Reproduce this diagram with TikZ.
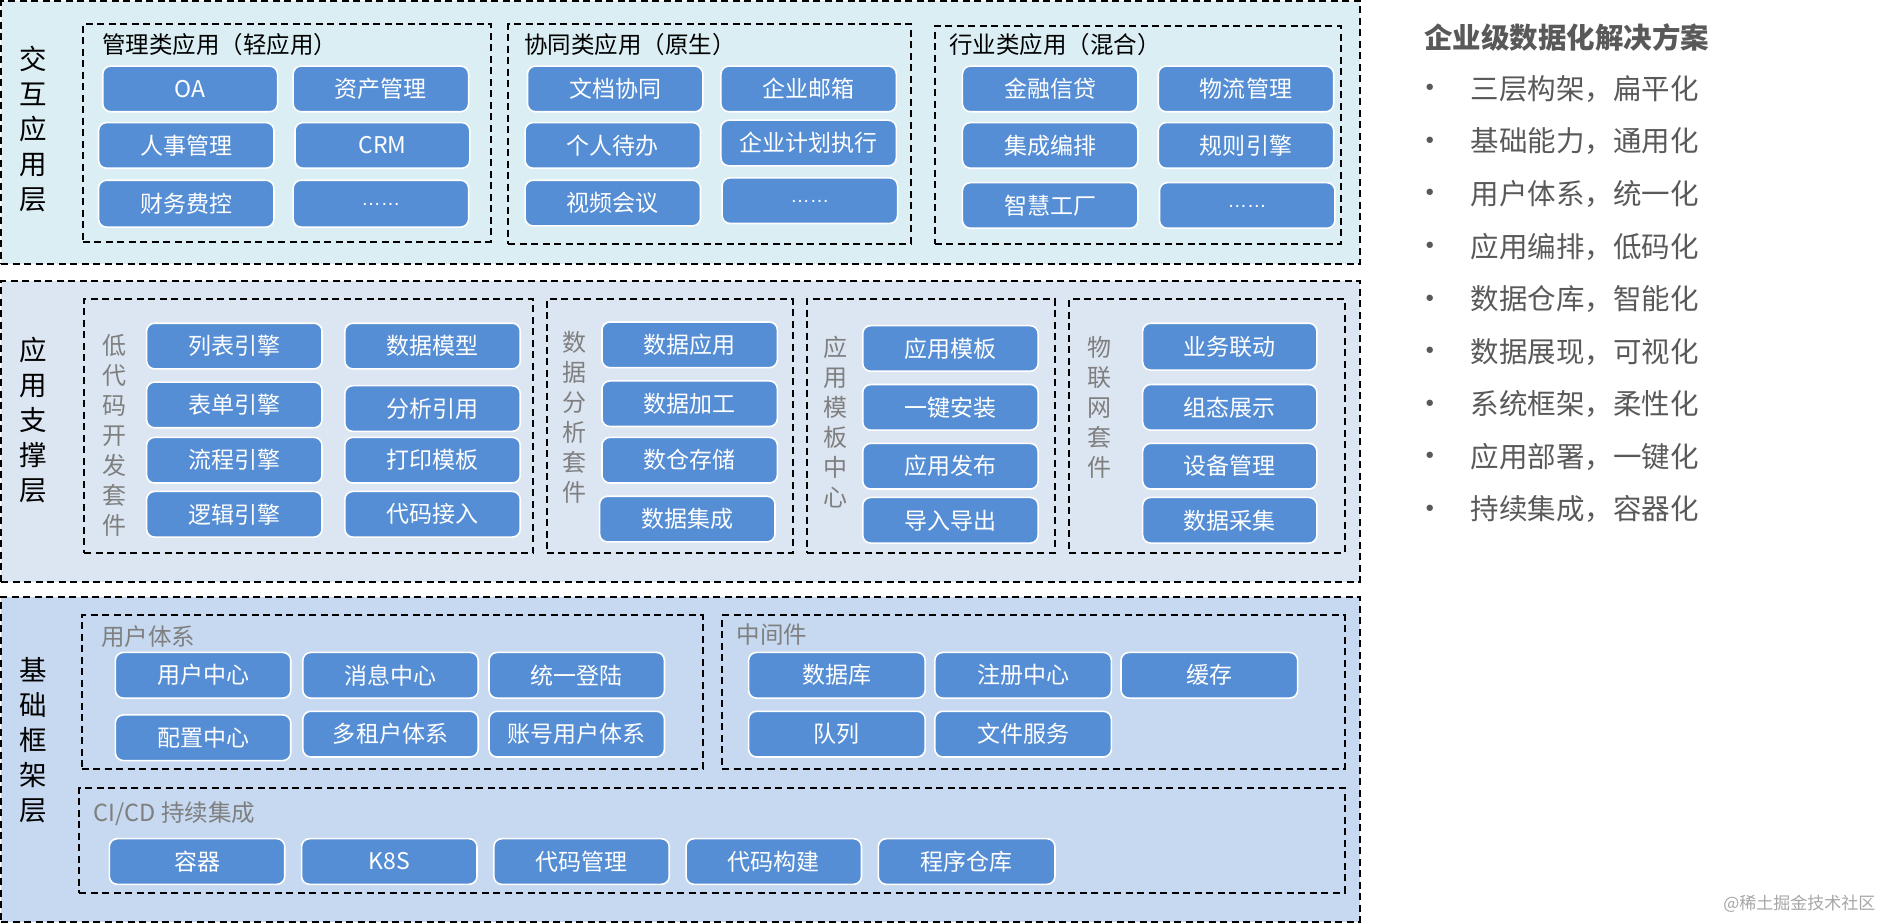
\documentclass[tikz,border=0pt]{standalone}
\usepackage{fontspec}
\setmainfont{Noto Sans CJK SC}
\newfontfamily\latinf{Liberation Sans}
\newfontfamily\dejavu{DejaVu Sans}
\usetikzlibrary{fit}
\definecolor{lone}{RGB}{218,238,243}
\definecolor{ltwo}{RGB}{220,230,242}
\definecolor{lthree}{RGB}{198,217,240}
\definecolor{boxblue}{RGB}{85,142,213}
\definecolor{graytxt}{RGB}{127,127,127}
\definecolor{sidetxt}{RGB}{89,89,89}
\tikzset{
  layerbox/.style={draw=black, line width=2pt, dash pattern=on 7pt off 4.5pt, inner sep=0pt},
  grpbox/.style={draw=black, line width=2pt, dash pattern=on 7pt off 4.5pt, inner sep=0pt},
  bx/.style={draw=white, line width=1.6pt, fill=boxblue, rounded corners=8pt, inner sep=0pt},
  btxt/.style={text=white, font=\fontsize{23}{26}\selectfont, inner sep=0pt},
  gtitle/.style={anchor=west, inner sep=0pt, font=\fontsize{23.5}{26}\selectfont},
  gtitlegray/.style={gtitle, text=graytxt},
  laylabel/.style={align=center, inner sep=0pt, font=\fontsize{27.5}{35}\selectfont},
  vlabel/.style={align=center, inner sep=0pt, text=graytxt, font=\fontsize{24}{30}\selectfont},
  sidetitle/.style={anchor=west, inner sep=0pt, text=sidetxt, font=\bfseries\fontsize{28.5}{32}\selectfont},
  sideitem/.style={anchor=west, inner sep=0pt, text=sidetxt, font=\fontsize{28.5}{32}\selectfont},
  sidebullet/.style={anchor=center, inner sep=0pt, text=sidetxt, font=\dejavu\fontsize{22}{24}\selectfont},
}
\newcommand\bx[6]{\node[bx, fit={(#2,#3) (#4,#5)}, label={[btxt]center:#6}] (#1) {};}
\newcommand\dotstxt{{\latinf\fontsize{19.5}{22}\selectfont\raisebox{-4pt}{……}}}
\begin{document}
\begin{tikzpicture}[x=1.2015pt, y=-1.2015pt]
\useasboundingbox (0,0) rectangle (1568,768);
% ---------- layer 1
\node[layerbox, fill=lone, fit={(1,1) (1132,220)}] (L1) {};
\node[laylabel] (L1t) at (28,107.5) {交\\互\\应\\用\\层};
\node[grpbox, fit={(69,20) (408.5,201)}] (g1a) {};
\node[gtitle] (g1at) at (85,37.5) {管理类应用（轻应用）};
\bx{oa}{85.5}{55}{231}{93}{OA}
\bx{zcgl}{244}{55}{390}{93}{资产管理}
\bx{rsgl}{82}{102}{228}{140}{人事管理}
\bx{crm}{245.5}{102}{391}{140}{CRM}
\bx{cwfk}{82}{150}{228}{189}{财务费控}
\bx{dotsa}{244}{150}{390}{189}{\dotstxt}
\node[grpbox, fit={(423,20) (758,203)}] (g1b) {};
\node[gtitle] (g1bt) at (436,37.5) {协同类应用（原生）};
\bx{wdxt}{439}{55}{585}{93}{文档协同}
\bx{qyyx}{600}{55}{746}{93}{企业邮箱}
\bx{grdb}{437}{102}{583}{140}{个人待办}
\bx{qyjh}{600}{100}{746}{138}{企业计划执行}
\bx{sphy}{437}{150}{583}{188}{视频会议}
\bx{dotsb}{601}{148}{747}{186}{\dotstxt}
\node[grpbox, fit={(778,22) (1116,203)}] (g1c) {};
\node[gtitle] (g1ct) at (790,37.5) {行业类应用（混合）};
\bx{jrxd}{801}{55}{947}{93}{金融信贷}
\bx{wlgl}{964}{55}{1110}{93}{物流管理}
\bx{jcbp}{801}{102}{947}{140}{集成编排}
\bx{gzyq}{964}{102}{1110}{140}{规则引擎}
\bx{zhgc}{801}{152}{947}{190}{智慧工厂}
\bx{dotsc}{965}{152}{1111}{190}{\dotstxt}
% ---------- layer 2
\node[layerbox, fill=ltwo, fit={(1,234) (1132,484)}] (L2) {};
\node[laylabel] (L2t) at (28,349.5) {应\\用\\支\\撑\\层};
\node[grpbox, fit={(70,249) (444,460)}] (g2a) {};
\node[vlabel] (g2at) at (95,362) {低\\代\\码\\开\\发\\套\\件};
\bx{lbyq}{122}{269}{268}{307}{列表引擎}
\bx{sjmx}{287}{269}{433}{307}{数据模型}
\bx{bdyq}{122}{318}{268}{356}{表单引擎}
\bx{fxyy}{287}{321}{433}{359}{分析引用}
\bx{lcyq}{122}{364}{268}{402}{流程引擎}
\bx{dymb}{287}{364}{433}{402}{打印模板}
\bx{ljyq}{122}{409}{268}{447}{逻辑引擎}
\bx{dmjr}{287}{409}{433}{447}{代码接入}
\node[grpbox, fit={(455,249) (660,460)}] (g2b) {};
\node[vlabel] (g2bt) at (478,347) {数\\据\\分\\析\\套\\件};
\bx{sjyy}{501}{268}{647}{306}{数据应用}
\bx{sjjg}{501}{317}{647}{355}{数据加工}
\bx{scc}{501}{364}{647}{402}{数仓存储}
\bx{sjjc}{499}{413}{645}{451}{数据集成}
\node[grpbox, fit={(672,249) (878,460)}] (g2c) {};
\node[vlabel] (g2ct) at (695,351) {应\\用\\模\\板\\中\\心};
\bx{yymb}{718}{271}{864}{309}{应用模板}
\bx{yjaz}{718}{320}{864}{358}{一键安装}
\bx{yyfb}{718}{369}{864}{407}{应用发布}
\bx{drdc}{718}{414}{864}{452}{导入导出}
\node[grpbox, fit={(890,249) (1119,460)}] (g2d) {};
\node[vlabel] (g2dt) at (915,339) {物\\联\\网\\套\\件};
\bx{ywld}{951}{269}{1096}{308}{业务联动}
\bx{ztzs}{951}{320}{1096}{358}{组态展示}
\bx{sbgl}{951}{369}{1096}{407}{设备管理}
\bx{sjcj}{951}{414}{1096}{452}{数据采集}
% ---------- layer 3
\node[layerbox, fill=lthree, fit={(1,497) (1132,767)}] (L3) {};
\node[laylabel] (L3t) at (28,616) {基\\础\\框\\架\\层};
\node[grpbox, fit={(68,512) (585,640)}] (g3a) {};
\node[gtitlegray] (g3at) at (84,530) {用户体系};
\bx{yhzx}{96}{543}{242}{581}{用户中心}
\bx{xxzx}{252}{543}{398}{581}{消息中心}
\bx{tydl}{407}{543}{553}{581}{统一登陆}
\bx{pzzx}{96}{595}{242}{633}{配置中心}
\bx{dzh}{252}{592}{398}{630}{多租户体系}
\bx{zhyh}{407}{592}{553}{630}{账号用户体系}
\node[grpbox, fit={(601,512) (1119,640)}] (g3b) {};
\node[gtitlegray] (g3bt) at (613,528) {中间件};
\bx{sjk}{623}{543}{770}{581}{数据库}
\bx{zczx}{778}{543}{925}{581}{注册中心}
\bx{hc}{933}{543}{1080}{581}{缓存}
\bx{dl}{623}{592}{770}{630}{队列}
\bx{wjfw}{778}{592}{925}{630}{文件服务}
\node[grpbox, fit={(66,656) (1119,743)}] (g3c) {};
\node[gtitlegray] (g3ct) at (78,677) {CI/CD 持续集成};
\bx{rq}{91}{698}{237}{736}{容器}
\bx{k8s}{251}{698}{397}{736}{K8S}
\bx{dmgl}{411}{698}{557}{736}{代码管理}
\bx{dmgj}{571}{698}{717}{736}{代码构建}
\bx{cxck}{731}{698}{878}{736}{程序仓库}
% ---------- side text
\node[sidetitle] (st) at (1185,31) {企业级数据化解决方案};
\foreach \t [count=\i from 0] in {三层构架，扁平化, 基础能力，通用化, 用户体系，统一化, 应用编排，低码化, 数据仓库，智能化, 数据展现，可视化, 系统框架，柔性化, 应用部署，一键化, 持续集成，容器化} {
  \node[sidebullet] (sb\i) at (1190,{75+43.75*\i}) {•};
  \node[sideitem] (si\i) at (1224,{74+43.75*\i}) {\t};
}
\node[anchor=east, inner sep=0pt, text=black!35, font=\fontsize{17}{20}\selectfont] (wm) at (1561,752) {@稀土掘金技术社区};
\end{tikzpicture}
\end{document}
